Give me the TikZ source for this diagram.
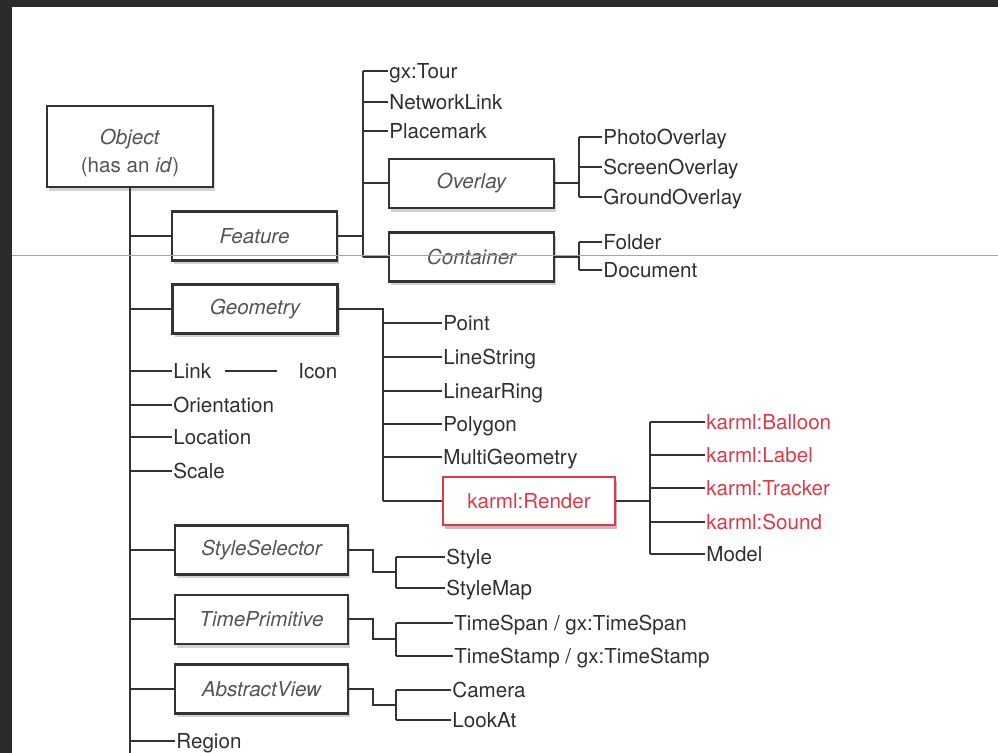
\documentclass[tikz,border=0pt]{standalone}
\usepackage{fontspec}
\setmainfont{TeX Gyre Heros}
\usepackage{xcolor}
\usepackage{tikz}
\usetikzlibrary{calc,shadows}

\definecolor{linegray}{HTML}{333333}
\definecolor{textgray}{HTML}{303030}
\definecolor{boxtext}{HTML}{555555}
\definecolor{karmlred}{HTML}{DE3A46}
\definecolor{framegray}{HTML}{2B2B2B}

\begin{document}
\begin{tikzpicture}[x=0.5pt,y=-0.5pt,
							every node/.style={font=\fontsize{10.3}{12}\selectfont,text=textgray},
							kmlbox/.style={draw=linegray,line width=1.1pt,fill=white,text=boxtext,
								font=\fontsize{10.3}{12}\selectfont\itshape,inner sep=0pt,
								minimum width=82.5pt,minimum height=24.5pt,
								drop shadow={shadow xshift=1.2pt,shadow yshift=-2pt,opacity=.35}},
							redbox/.style={kmlbox,draw=karmlred,text=karmlred,font=\fontsize{10.3}{12}\selectfont,
								drop shadow={shadow xshift=1.2pt,shadow yshift=-2pt,opacity=.35,fill=karmlred!70}},
							leaf/.style={anchor=west,inner sep=0.5pt,text height=7.4pt,text depth=0pt},
							redleaf/.style={leaf,text=karmlred},
							conn/.style={draw=linegray,line width=1pt}]
			\useasboundingbox (0,0) rectangle (998,753);
			\fill[white] (0,0) rectangle (998,753);
			\fill[framegray] (0,0) rectangle (998,7);
			\fill[framegray] (0,0) rectangle (12,753);

			% boxes
			\node[kmlbox,minimum width=83pt,minimum height=40.5pt,align=center,
				font=\fontsize{10.3}{14}\selectfont] (obj) at (130,146.5) {\rule{0pt}{14.6pt}\textit{Object}\\(has an \textit{id})};
			\node[kmlbox] (feat) at (254.5,236) {Feature};
			\node[kmlbox] (geom) at (255,309) {Geometry};
			\node[kmlbox,minimum width=86.5pt] (ssel) at (261.5,550) {StyleSelector};
			\node[kmlbox,minimum width=86.5pt] (tprim) at (261.5,619.5) {TimePrimitive};
			\node[kmlbox,minimum width=86.5pt] (aview) at (261.5,689) {AbstractView};
			\node[kmlbox] (ovl) at (471.5,183.5) {Overlay};
			\node[kmlbox] (cont) at (471.5,257) {Container};
			\node[redbox,minimum width=86pt,minimum height=24pt] (rend) at (529,501) {karml:Render};

			% leaves
			\node[leaf] (tour) at (388,71) {gx:Tour};
			\node[leaf] (nlink) at (388,102) {NetworkLink};
			\node[leaf] (pmark) at (388,131) {Placemark};
			\node[leaf] (photo) at (602,137) {PhotoOverlay};
			\node[leaf] (screen) at (602,167) {ScreenOverlay};
			\node[leaf] (ground) at (602,197) {GroundOverlay};
			\node[leaf] (folder) at (602,242) {Folder};
			\node[leaf] (doc) at (602,270) {Document};
			\node[leaf] (point) at (442,323) {Point};
			\node[leaf] (lstr) at (442,357) {LineString};
			\node[leaf] (lring) at (442,391) {LinearRing};
			\node[leaf] (poly) at (442,424) {Polygon};
			\node[leaf] (multi) at (442,457) {MultiGeometry};
			\node[redleaf] (balloon) at (705,422) {karml:Balloon};
			\node[redleaf] (label) at (705,455) {karml:Label};
			\node[redleaf] (tracker) at (705,488) {karml:Tracker};
			\node[redleaf] (sound) at (705,522) {karml:Sound};
			\node[leaf] (model) at (705,554) {Model};
			\node[leaf] (link) at (172,371) {Link};
			\node[leaf] (icon) at (297,371) {Icon};
			\node[leaf] (orient) at (172,405) {Orientation};
			\node[leaf] (loc) at (172,437) {Location};
			\node[leaf] (scale) at (172,471) {Scale};
			\node[leaf] (style) at (445,557) {Style};
			\node[leaf] (smap) at (445,588) {StyleMap};
			\node[leaf] (tspan) at (453,623) {TimeSpan / gx:TimeSpan};
			\node[leaf] (tstamp) at (453,656) {TimeStamp / gx:TimeStamp};
			\node[leaf] (camera) at (451,690) {Camera};
			\node[leaf] (lookat) at (451,720) {LookAt};
			\node[leaf] (region) at (175,741) {Region};

			% trunk
			\coordinate (trunkend) at (130,753);
			\draw[conn] (obj.south) -- (trunkend);
			\foreach \n in {feat,geom,link,orient,loc,scale,ssel,tprim,aview,region}
				\draw[conn] (obj.south |- \n.west) -- (\n.west);
			\draw[conn] ([xshift=6pt]link.east) -- ([xshift=-10pt]icon.west);

			% Feature
			\coordinate (fb) at (363,0);
			\draw[conn] (feat.east) -- (fb |- feat.east);
			\draw[conn] (fb |- tour.west) -- (fb |- cont.west);
			\foreach \n in {tour,nlink,pmark,ovl,cont}
				\draw[conn] (fb |- \n.west) -- (\n.west);

			% Overlay, Container
			\coordinate (ob) at (579,0);
			\draw[conn] (ovl.east) -- (ob |- ovl.east);
			\draw[conn] (ob |- photo.west) -- (ob |- ground.west);
			\draw[conn] (cont.east) -- (ob |- cont.east);
			\draw[conn] (ob |- folder.west) -- (ob |- doc.west);
			\foreach \n in {photo,screen,ground,folder,doc}
				\draw[conn] (ob |- \n.west) -- (\n.west);

			% Geometry
			\coordinate (gb) at (383,0);
			\draw[conn] (geom.east) -- (gb |- geom.east) -- (gb |- rend.west);
			\foreach \n in {point,lstr,lring,poly,multi,rend}
				\draw[conn] (gb |- \n.west) -- (\n.west);

			% karml:Render
			\coordinate (rb) at (650,0);
			\draw[conn] (rend.east) -- (rb |- rend.east);
			\draw[conn] (rb |- balloon.west) -- (rb |- model.west);
			\foreach \n in {balloon,label,tracker,sound,model}
				\draw[conn] (rb |- \n.west) -- (\n.west);

			% StyleSelector, TimePrimitive, AbstractView
			\coordinate (sb) at (396,0);
			\foreach \b/\u/\d in {ssel/style/smap,tprim/tspan/tstamp,aview/camera/lookat}
			{
				\draw[conn] (sb |- \u.west) -- (sb |- \d.west);
				\draw[conn] (sb |- \u.west) -- (\u.west);
				\draw[conn] (sb |- \d.west) -- (\d.west);
				\draw[conn] (\b.east) -- ++(12pt,0) |- ($(sb |- \u.west)!.5!(sb |- \d.west)$);
			}

			\draw[gray!70,line width=0.5pt] (12,256) -- (998,256);
		\end{tikzpicture}
\end{document}
